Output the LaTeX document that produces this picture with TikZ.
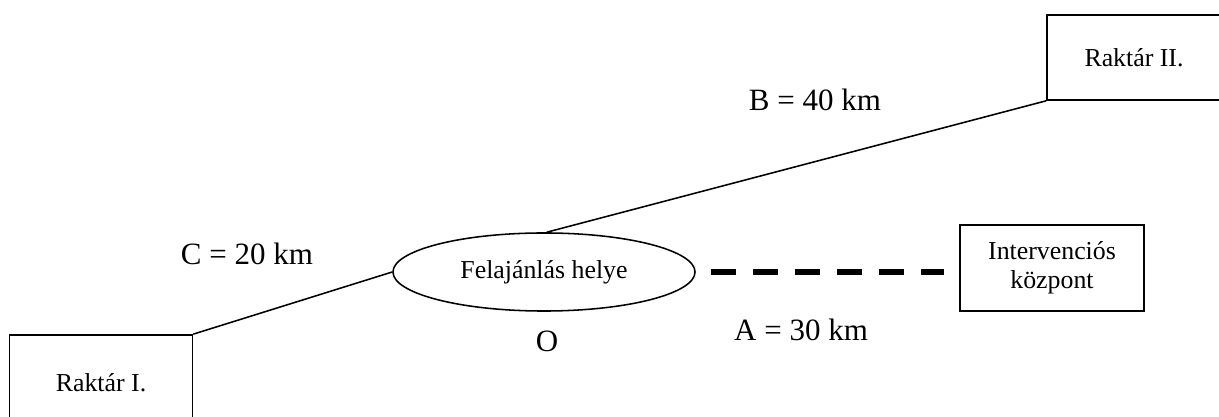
\documentclass[tikz,border=0pt]{standalone}
\usepackage{fontspec}
\setmainfont{Liberation Serif}
\usepackage{tikz}
\usetikzlibrary{shapes.geometric, positioning}

\begin{document}
\begin{tikzpicture}[x=0.387pt, y=-0.387pt,
    box/.style={draw, line width=0.6pt, inner sep=0pt, align=center,
      font=\fontsize{10}{11.2}\selectfont},
    place/.style={draw, ellipse, line width=0.6pt, inner sep=0pt,
      minimum width=116.9pt, minimum height=30.2pt,
      font=\fontsize{10}{11.2}\selectfont},
    dist/.style={inner sep=0pt, font=\fontsize{12}{14}\selectfont},
    road/.style={line width=0.6pt},
    dashline/.style={line width=2.3pt, dash pattern=on 9.7pt off 6.6pt,
      shorten <=5.8pt, shorten >=5.8pt}]
  \useasboundingbox (0,0) rectangle (1219,417);

  % nodes
  \node[place] (fo) at (544,272) {Felajánlás helye};
  \node[box, minimum width=70.8pt, minimum height=37.2pt] (r1) at (101,383) {Raktár I.};
  \node[box, minimum width=67.3pt, minimum height=32.9pt] (r2) at (1134,57.5) {Raktár II.};
  \node[box, minimum width=71.2pt, minimum height=33.3pt] (ic) at (1052,268) {Intervenciós\\központ};

  % labels
  \node[dist] (lc) at (247,254) {C = 20 km};
  \node[dist] (lb) at (815,100) {B = 40 km};
  \node[dist] (la) at (801,330) {A = 30 km};
  \node[dist] (lo) at (547,341) {O};

  % connections
  \draw[road] (r1.north east) -- (fo.west);
  \draw[road] (fo.86) -- (r2.south west);
  \draw[dashline] (fo.east) -- (fo.east -| ic.west);
\end{tikzpicture}
\end{document}
